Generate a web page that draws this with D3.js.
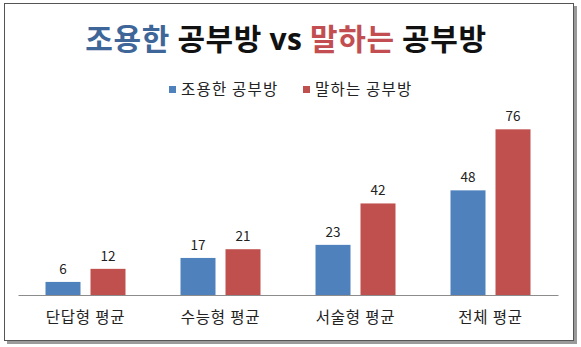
<!DOCTYPE html>
<html><head><meta charset="utf-8">
<script src="https://cdn.jsdelivr.net/npm/d3@7"></script>
<style>
html,body{margin:0;padding:0;background:#fff;}
svg{display:block;font-family:"Noto Sans CJK KR","Noto Sans",sans-serif;}
</style></head>
<body>
<svg id="c" width="581" height="347"></svg>
<script>
const categories = ["단답형 평균", "수능형 평균", "서술형 평균", "전체 평균"];
const seriesNames = ["조용한 공부방", "말하는 공부방"];
const quietValues = [6, 17, 23, 48];
const talkingValues = [12, 21, 42, 76];
const seriesColors = ["#4f81bd", "#c0504d"];

const svg = d3.select("#c");

// frame with shadow
svg.append("rect").attr("x", 7).attr("y", 6).attr("width", 570).attr("height", 338).attr("fill", "#9a9a9a");
svg.append("rect").attr("x", 4.5).attr("y", 3.5).attr("width", 569).attr("height", 337)
  .attr("fill", "#fff").attr("stroke", "#555").attr("stroke-width", 1);

// title
const title = svg.append("text").attr("x", 286).attr("y", 50).attr("text-anchor", "middle")
  .attr("font-size", 30).attr("font-weight", "bold").attr("fill", "#111")
  .attr("letter-spacing", 0.6);
title.append("tspan").attr("fill", "#3f6698").text("조용한");
title.append("tspan").text(" 공부방 ");
title.append("tspan").attr("font-family", "'Open Sans', 'DejaVu Sans', sans-serif").text("vs");
title.append("tspan").text(" ");
title.append("tspan").attr("fill", "#c24e52").text("말하는");
title.append("tspan").text(" 공부방");

// legend
const legendX = [169, 303];
seriesNames.forEach((n, i) => {
  svg.append("rect").attr("x", legendX[i]).attr("y", 86).attr("width", 7).attr("height", 7).attr("fill", seriesColors[i]);
  svg.append("text").attr("x", legendX[i] + 12).attr("y", 95).attr("font-size", 15.5)
    .attr("letter-spacing", 1.2).attr("fill", "#222").text(n);
});

// scales
const x0 = d3.scaleBand().domain(categories).range([18, 558]).paddingInner(0).paddingOuter(0);
const x1 = d3.scaleBand().domain([0, 1]).range([-40, 40]).paddingInner(0.2222).paddingOuter(0);
const y = d3.scaleLinear().domain([0, 80]).range([295, 120.6]);

const data = categories.map((c, i) => ({cat: c, vals: [quietValues[i], talkingValues[i]]}));

const g = svg.append("g");
data.forEach(d => {
  const cx = x0(d.cat) + x0.bandwidth() / 2;
  d.vals.forEach((v, s) => {
    g.append("rect").attr("x", cx + x1(s)).attr("y", y(v)).attr("width", x1.bandwidth())
      .attr("height", y(0) - y(v)).attr("fill", seriesColors[s]);
    g.append("text").attr("x", cx + x1(s) + x1.bandwidth() / 2).attr("y", y(v) - 8)
      .attr("text-anchor", "middle").attr("font-size", 13.5).attr("fill", "#222").text(v);
  });
});

// axis
const axis = d3.axisBottom(x0).tickSize(0).tickPadding(17);
const ax = svg.append("g").attr("transform", "translate(0,295)").call(axis);
ax.select(".domain").attr("stroke", "#8c8c8c").attr("stroke-width", 1.2);
ax.selectAll("text").attr("font-size", 15.5).attr("fill", "#222").attr("letter-spacing", 0.8)
  .attr("font-family", "'Noto Sans CJK KR', sans-serif");
</script>
</body></html>
